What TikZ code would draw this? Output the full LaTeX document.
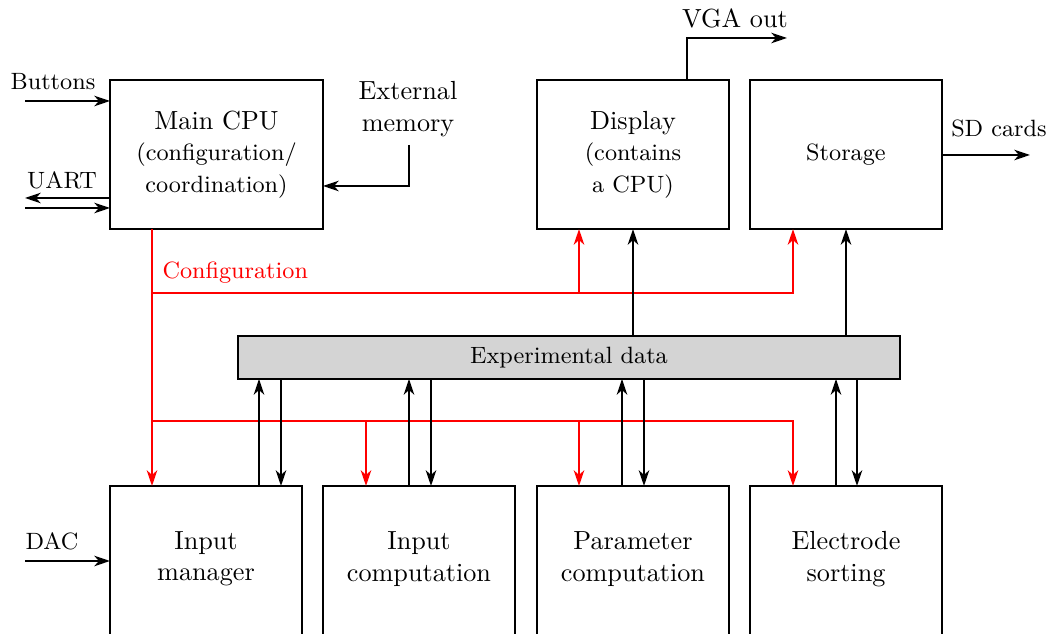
\documentclass[tikz,border=0pt]{standalone}
\usetikzlibrary{arrows.meta}
\definecolor{busgray}{gray}{0.83}
\begin{document}
\begin{tikzpicture}[x=0.3817pt,y=-0.3817pt,
  box/.style={draw,line width=0.8pt,inner sep=0pt,outer sep=0pt,align=center},
  topbox/.style={box,minimum width=73.3pt,minimum height=56.9pt},
  botbox/.style={box,minimum width=73.3pt,minimum height=64.9pt,anchor=north},
  lbl/.style={inner sep=0pt,align=center},
  arr/.style={line width=0.8pt,-{Stealth[length=6pt,width=4pt,inset=1.8pt]}},
  ln/.style={line width=0.8pt},
  rarr/.style={arr,red},
  rln/.style={ln,red}]
\useasboundingbox (0,0) rectangle (1049,634);
% boxes
\node[box,minimum width=81.3pt,minimum height=56.9pt] (main) at (216.5,154.5)
  {Main CPU\\\small(configuration/\\\small coordination)};
\node[topbox] (disp) at (633,154.5) {Display\\\small(contains\\\small a CPU)};
\node[topbox] (stor) at (846,154.5) {\small Storage};
\node[box,fill=busgray,minimum width=252.7pt,minimum height=16.4pt] (exp) at (569,357.5) {\small Experimental data};
\node[botbox] (im) at (206,486) {};
\node[botbox] (ic) at (419,486) {};
\node[botbox] (pc) at (633,486) {};
\node[botbox] (es) at (846,486) {};
\node[lbl] (imt) at (206,559) {Input\\manager};
\node[lbl] (ict) at (419,559) {Input\\computation};
\node[lbl] (pct) at (633,559) {Parameter\\computation};
\node[lbl] (est) at (846,559) {Electrode\\sorting};
% labels
\node[lbl,font=\small] (btn) at (53,82) {Buttons};
\node[lbl,font=\small] (uart) at (62,180) {UART};
\node[lbl,font=\small] (dac) at (52,541) {DAC};
\node[lbl] (vga) at (735,18) {VGA out};
\node[lbl] (extm) at (408,109) {External\\memory};
\node[lbl,font=\small] (sd) at (999,128) {SD cards};
\node[lbl,font=\small,text=red,anchor=west] (cfg) at (162,273) {Configuration};
% coordinates
\coordinate (c25a) at (25,101);
\coordinate (c25b) at (25,198);
\coordinate (c25c) at (25,208);
\coordinate (c25d) at (25,561);
\coordinate (sdend) at (1030,155);
\coordinate (vgaend) at (787,38);
\coordinate (extst) at (409,145);
\coordinate (x152) at (152,0);
\coordinate (x259) at (259,0);
\coordinate (x281) at (281,0);
\coordinate (x366) at (366,0);
\coordinate (x409) at (409,0);
\coordinate (x431) at (431,0);
\coordinate (x579) at (579,0);
\coordinate (x622) at (622,0);
\coordinate (x644) at (644,0);
\coordinate (x687) at (687,0);
\coordinate (x793) at (793,0);
\coordinate (x836) at (836,0);
\coordinate (x857) at (857,0);
\coordinate (r1) at (152,293);
\coordinate (r2) at (152,421);
% external arrows
\draw[arr] (c25a) -- (c25a -| main.west);
\draw[arr] (c25b -| main.west) -- (c25b);
\draw[arr] (c25c) -- (c25c -| main.west);
\draw[arr] (c25d) -- (c25d -| im.west);
\draw[arr] (sdend -| stor.east) -- (sdend);
\draw[arr] (x687 |- disp.north) |- (vgaend);
\draw[arr] (extst) |- (main.east |- 0,186);
% configuration (red)
\draw[rarr] (x152 |- main.south) -- (x152 |- im.north);
\draw[rarr] (r1) -| (x793 |- stor.south);
\draw[rarr] (x579 |- r1) -- (x579 |- disp.south);
\draw[rarr] (r2) -| (x793 |- es.north);
\draw[rarr] (x366 |- r2) -- (x366 |- ic.north);
\draw[rarr] (x579 |- r2) -- (x579 |- pc.north);
% data bus
\draw[arr] (exp.north -| disp.south) -- (disp.south);
\draw[arr] (exp.north -| stor.south) -- (stor.south);
\draw[arr] (x259 |- im.north) -- (x259 |- exp.south);
\draw[arr] (x281 |- exp.south) -- (x281 |- im.north);
\draw[arr] (x409 |- ic.north) -- (x409 |- exp.south);
\draw[arr] (x431 |- exp.south) -- (x431 |- ic.north);
\draw[arr] (x622 |- pc.north) -- (x622 |- exp.south);
\draw[arr] (x644 |- exp.south) -- (x644 |- pc.north);
\draw[arr] (x836 |- es.north) -- (x836 |- exp.south);
\draw[arr] (x857 |- exp.south) -- (x857 |- es.north);
\end{tikzpicture}
\end{document}
